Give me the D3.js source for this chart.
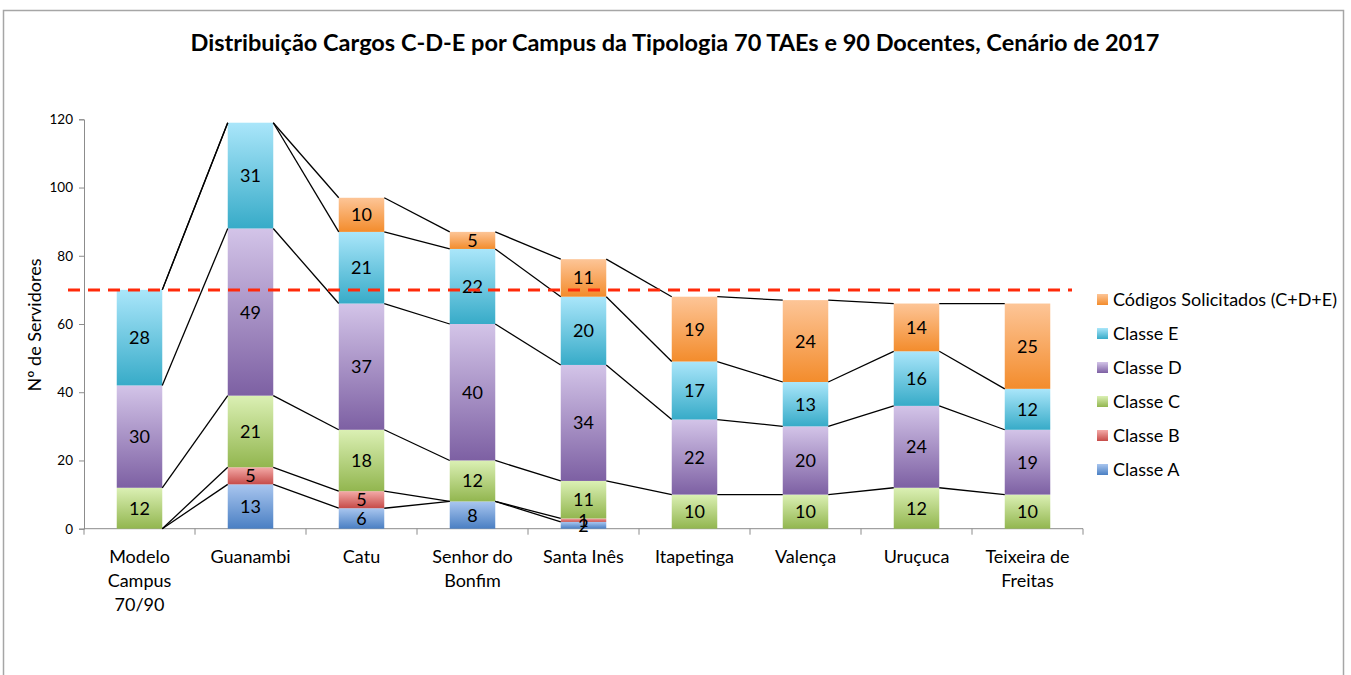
<!DOCTYPE html>
<html><head><meta charset="utf-8">
<script src="https://cdn.jsdelivr.net/npm/d3@7"></script>
<style>body{margin:0;background:#fff}svg{display:block;font-family:Lato,"Open Sans",sans-serif}</style>
</head><body><svg id="c" width="1351" height="675"></svg>
<script>
const categories = [["Modelo","Campus","70/90"],["Guanambi"],["Catu"],["Senhor do","Bonfim"],["Santa Inês"],["Itapetinga"],["Valença"],["Uruçuca"],["Teixeira de","Freitas"]];
const seriesNames = ["Classe A","Classe B","Classe C","Classe D","Classe E","Códigos Solicitados (C+D+E)"];
const classeA = [0,13,6,8,2,null,null,null,null];
const classeB = [0,5,5,0,1,null,null,null,null];
const classeC = [12,21,18,12,11,10,10,12,10];
const classeD = [30,49,37,40,34,22,20,24,19];
const classeE = [28,31,21,22,20,17,13,16,12];
const codigos = [0,0,10,5,11,19,24,14,25];
const yTicks = [0,20,40,60,80,100,120];
const referenceLine = 70;
const title = "Distribuição Cargos C-D-E por Campus da Tipologia 70 TAEs e 90 Docentes, Cenário de 2017";
const yLabel = "Nº de Servidores";

const seriesData = [classeA,classeB,classeC,classeD,classeE,codigos];
const grad = [["#a9c6ef","#4a7fc3"],["#f4aaa8","#c64b48"],["#dbf0b4","#92b64f"],["#d3c4e8","#7d60a3"],["#aae6fa","#37abc8"],["#fdc597","#f38c2c"]];

const svg = d3.select("#c");
const x = d3.scaleBand().domain(d3.range(categories.length)).range([84,1083]).paddingInner(0.59).paddingOuter(0.295);
const y = d3.scaleLinear().domain([0,120]).range([528.7,119.3]);

// frame
svg.append("path").attr("d","M3.5,680V10.5H1343.5V680").attr("fill","none").attr("stroke","#a6a6a6").attr("stroke-width",1.5);

const defs = svg.append("defs");
grad.forEach((g,i)=>{
  const lg = defs.append("linearGradient").attr("id","g"+i).attr("x1",0).attr("y1",0).attr("x2",0).attr("y2",1);
  lg.append("stop").attr("offset","0%").attr("stop-color",g[0]);
  lg.append("stop").attr("offset","100%").attr("stop-color",g[1]);
});

// title
svg.append("text").attr("x",675).attr("y",51).attr("text-anchor","middle").attr("font-weight","bold").attr("font-size",23.5).attr("fill","#000").text(title);

// stack
const rows = categories.map((c,i)=>{const o={};seriesData.forEach((s,k)=>o[k]=s[i]||0);return o;});
const stack = d3.stack().keys(d3.range(seriesData.length))(rows);

// axes
const yAxis = svg.append("g").attr("transform","translate(84,0)").call(d3.axisLeft(y).tickValues(yTicks).tickSize(5).tickPadding(6));
yAxis.selectAll("path,line").attr("stroke","#8c8c8c");
yAxis.selectAll("text").attr("font-size",13.5).attr("fill","#000").attr("font-family","Lato,'Open Sans',sans-serif");

const xg = svg.append("g");
xg.append("line").attr("x1",84).attr("x2",1083).attr("y1",y(0)).attr("y2",y(0)).attr("stroke","#8c8c8c");
d3.range(categories.length+1).forEach(i=>{
  const xx = 84 + i*(999/categories.length);
  xg.append("line").attr("x1",xx).attr("x2",xx).attr("y1",y(0)).attr("y2",y(0)+6).attr("stroke","#8c8c8c");
});
categories.forEach((c,i)=>{
  const cx = x(i)+x.bandwidth()/2;
  const t = xg.append("text").attr("x",cx).attr("y",y(0)+34).attr("text-anchor","middle").attr("font-size",18).attr("fill","#000");
  c.forEach((line,j)=>t.append("tspan").attr("x",cx).attr("dy",j?24:0).text(line));
});

svg.append("text").attr("transform",`translate(41,325) rotate(-90)`).attr("text-anchor","middle").attr("font-size",18).attr("fill","#000").text(yLabel);

// bars
const bars = svg.append("g");
stack.forEach((layer,k)=>{
  bars.selectAll(null).data(layer).join("rect")
    .attr("x",(d,i)=>x(i)).attr("width",x.bandwidth())
    .attr("y",d=>y(d[1])).attr("height",d=>y(d[0])-y(d[1]))
    .attr("fill",`url(#g${k})`);
});

// series lines (skip blanks)
const sl = svg.append("g").attr("stroke","#000").attr("stroke-width",1.3);
stack.forEach((layer,k)=>{
  const s = seriesData[k];
  for(let i=0;i<layer.length-1;i++){
    if(s[i]==null || s[i+1]==null) continue;
    sl.append("line").attr("x1",x(i)+x.bandwidth()).attr("y1",y(layer[i][1]))
      .attr("x2",x(i+1)).attr("y2",y(layer[i+1][1]));
  }
});

// labels
const lab = svg.append("g").attr("font-size",18).attr("fill","#000").attr("text-anchor","middle");
stack.forEach((layer,k)=>{
  layer.forEach((d,i)=>{
    const v = d[1]-d[0];
    if(v>0) lab.append("text").attr("x",x(i)+x.bandwidth()/2).attr("y",y((d[0]+d[1])/2)+6.5).text(v);
  });
});

// reference line
svg.append("line").attr("x1",68).attr("x2",1072).attr("y1",y(referenceLine)).attr("y2",y(referenceLine))
  .attr("stroke","#ff2a0a").attr("stroke-width",3).attr("stroke-dasharray","12,8");

// legend
const legOrder = [5,4,3,2,1,0];
const lg = svg.append("g");
legOrder.forEach((k,j)=>{
  const yy = 299 + j*34;
  lg.append("rect").attr("x",1097).attr("y",yy-5).attr("width",11).attr("height",11).attr("fill",`url(#g${k})`);
  lg.append("text").attr("x",1113).attr("y",yy+6.5).attr("font-size",18).attr("fill","#000").text(seriesNames[k]);
});
</script></body></html>
